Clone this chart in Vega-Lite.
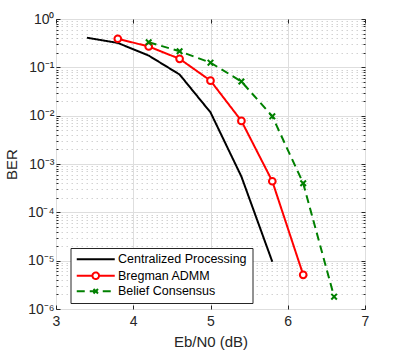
{
  "$schema": "https://vega.github.io/schema/vega-lite/v6.json",
  "width": 309,
  "height": 290,
  "autosize": "none",
  "padding": {"left": 56, "top": 19, "right": 34, "bottom": 47},
  "background": "white",
  "config": {
    "font": "Liberation Sans",
    "view": {"stroke": "#262626", "strokeWidth": 1},
    "axis": {"labelFont": "Liberation Sans", "titleFont": "Liberation Sans", "labelColor": "#262626", "titleColor": "#262626", "titleFontWeight": "normal", "labelFontSize": 14, "titleFontSize": 15, "domain": false, "tickColor": "#262626"}
  },
  "data": {
    "values": [
      {"snr": 3.4, "ber": 0.41, "series": "Centralized Processing"},
      {"snr": 3.8, "ber": 0.32, "series": "Centralized Processing"},
      {"snr": 4.2, "ber": 0.175, "series": "Centralized Processing"},
      {"snr": 4.6, "ber": 0.071, "series": "Centralized Processing"},
      {"snr": 5.0, "ber": 0.0117, "series": "Centralized Processing"},
      {"snr": 5.4, "ber": 0.00055, "series": "Centralized Processing"},
      {"snr": 5.8, "ber": 0.0000095, "series": "Centralized Processing"},
      {"snr": 3.8, "ber": 0.39, "series": "Bregman ADMM"},
      {"snr": 4.2, "ber": 0.27, "series": "Bregman ADMM"},
      {"snr": 4.6, "ber": 0.15, "series": "Bregman ADMM"},
      {"snr": 5.0, "ber": 0.053, "series": "Bregman ADMM"},
      {"snr": 5.4, "ber": 0.0078, "series": "Bregman ADMM"},
      {"snr": 5.8, "ber": 0.00044, "series": "Bregman ADMM"},
      {"snr": 6.2, "ber": 0.0000051, "series": "Bregman ADMM"},
      {"snr": 4.2, "ber": 0.33, "series": "Belief Consensus"},
      {"snr": 4.6, "ber": 0.215, "series": "Belief Consensus"},
      {"snr": 5.0, "ber": 0.125, "series": "Belief Consensus"},
      {"snr": 5.4, "ber": 0.051, "series": "Belief Consensus"},
      {"snr": 5.8, "ber": 0.0097, "series": "Belief Consensus"},
      {"snr": 6.2, "ber": 0.0004, "series": "Belief Consensus"},
      {"snr": 6.6, "ber": 0.0000018, "series": "Belief Consensus"}
    ]
  },
  "resolve": {"axis": {"x": "independent", "y": "independent"}},
  "layer": [
    {
      "mark": {"type": "line", "strokeWidth": 2, "clip": true},
      "encoding": {
        "x": {"field": "snr", "type": "quantitative", "scale": {"domain": [3, 7], "nice": false, "zero": false},
          "axis": {"orient": "bottom", "title": "Eb/N0 (dB)", "values": [3, 4, 5, 6, 7], "grid": true, "gridColor": "#dedede", "gridWidth": 1, "tickSize": -4, "labelPadding": 9, "titlePadding": 6, "labelFlush": false}},
        "y": {"field": "ber", "type": "quantitative", "scale": {"type": "log", "domain": [0.000001, 1], "nice": false},
          "axis": {"orient": "left", "title": "BER", "titlePadding": 8,
            "values": [0.000001,0.000002,0.000003,0.000004,0.000005,0.000006,0.000007,0.000008,0.000009,0.00001,0.00002,0.00003,0.00004,0.00005,0.00006,0.00007,0.00008,0.00009,0.0001,0.0002,0.0003,0.0004,0.0005,0.0006,0.0007,0.0008,0.0009,0.001,0.002,0.003,0.004,0.005,0.006,0.007,0.008,0.009,0.01,0.02,0.03,0.04,0.05,0.06,0.07,0.08,0.09,0.1,0.2,0.3,0.4,0.5,0.6,0.7,0.8,0.9,1],
            "grid": true,
            "gridColor": {"condition": {"test": "abs(log(datum.value)/LN10 - round(log(datum.value)/LN10)) < 0.001", "value": "#dedede"}, "value": "#d2d2d2"},
            "gridDash": {"condition": {"test": "abs(log(datum.value)/LN10 - round(log(datum.value)/LN10)) < 0.001", "value": []}, "value": [1.5, 3.5]},
            "tickSize": {"condition": {"test": "abs(log(datum.value)/LN10 - round(log(datum.value)/LN10)) < 0.001", "value": -4}, "value": -2},
            "labelOverlap": false, "labelBound": false, "labelPadding": 6, "labelFlush": false,
            "labelExpr": "abs(log(datum.value)/LN10 - round(log(datum.value)/LN10)) > 0.001 ? '' : (round(log(datum.value)/LN10) == 0 ? '10⁰' : round(log(datum.value)/LN10) == -1 ? '10⁻¹' : round(log(datum.value)/LN10) == -2 ? '10⁻²' : round(log(datum.value)/LN10) == -3 ? '10⁻³' : round(log(datum.value)/LN10) == -4 ? '10⁻⁴' : round(log(datum.value)/LN10) == -5 ? '10⁻⁵' : '10⁻⁶')"}},
        "color": {"field": "series", "type": "nominal",
          "scale": {"domain": ["Centralized Processing", "Bregman ADMM", "Belief Consensus"], "range": ["#000000", "#ff0000", "#008000"]},
          "legend": {"title": null, "orient": "none", "legendX": 14.5, "legendY": 229, "fillColor": "white", "strokeColor": "#262626", "padding": 5, "labelFont": "Liberation Sans", "labelFontSize": 12.5, "labelColor": "#000000", "symbolSize": 100, "symbolStrokeWidth": 2, "symbolOffset": 14, "labelOffset": 16, "rowPadding": 1.5,
            "encode": {"symbols": {"update": {
              "shape": {"signal": "datum.value === 'Bregman ADMM' ? 'M-3.8,0L-0.66,0M0.66,0L3.8,0M0.66,0A0.66,0.66 0 1 1 -0.66,0A0.66,0.66 0 1 1 0.66,0' : datum.value === 'Belief Consensus' ? 'M-3.8,0L3.8,0M-0.45,-0.45L0.45,0.45M-0.45,0.45L0.45,-0.45' : 'M-3.8,0L3.8,0'"},
              "fill": {"signal": "datum.value === 'Bregman ADMM' ? 'white' : 'transparent'"},
              "strokeDash": {"value": []}
            }}}}},
        "strokeDash": {"field": "series", "type": "nominal", "scale": {"domain": ["Centralized Processing", "Bregman ADMM", "Belief Consensus"], "range": [[1, 0], [1, 0], [8, 5]]}, "legend": null}
      }
    },
    {
      "transform": [{"filter": "datum.series === 'Bregman ADMM'"}],
      "mark": {"type": "point", "shape": "circle", "size": 45, "filled": false, "fill": "white", "fillOpacity": 1, "stroke": "#ff0000", "strokeWidth": 2, "opacity": 1},
      "encoding": {
        "x": {"field": "snr", "type": "quantitative", "axis": {"orient": "top", "values": [3, 4, 5, 6, 7], "labels": false, "title": null, "grid": false, "tickSize": -4}},
        "y": {"field": "ber", "type": "quantitative", "axis": {"orient": "right", "title": null, "labels": false, "grid": false,
          "values": [0.000001,0.000002,0.000003,0.000004,0.000005,0.000006,0.000007,0.000008,0.000009,0.00001,0.00002,0.00003,0.00004,0.00005,0.00006,0.00007,0.00008,0.00009,0.0001,0.0002,0.0003,0.0004,0.0005,0.0006,0.0007,0.0008,0.0009,0.001,0.002,0.003,0.004,0.005,0.006,0.007,0.008,0.009,0.01,0.02,0.03,0.04,0.05,0.06,0.07,0.08,0.09,0.1,0.2,0.3,0.4,0.5,0.6,0.7,0.8,0.9,1],
          "tickSize": {"condition": {"test": "abs(log(datum.value)/LN10 - round(log(datum.value)/LN10)) < 0.001", "value": -4}, "value": -2}}}
      }
    },
    {
      "transform": [{"filter": "datum.series === 'Belief Consensus'"}],
      "mark": {"type": "point", "shape": "M-1,-1L1,1M-1,1L1,-1", "size": 31, "filled": false, "stroke": "#008000", "strokeWidth": 2, "opacity": 1},
      "encoding": {
        "x": {"field": "snr", "type": "quantitative", "axis": null},
        "y": {"field": "ber", "type": "quantitative", "axis": null}
      }
    }
  ]
}
